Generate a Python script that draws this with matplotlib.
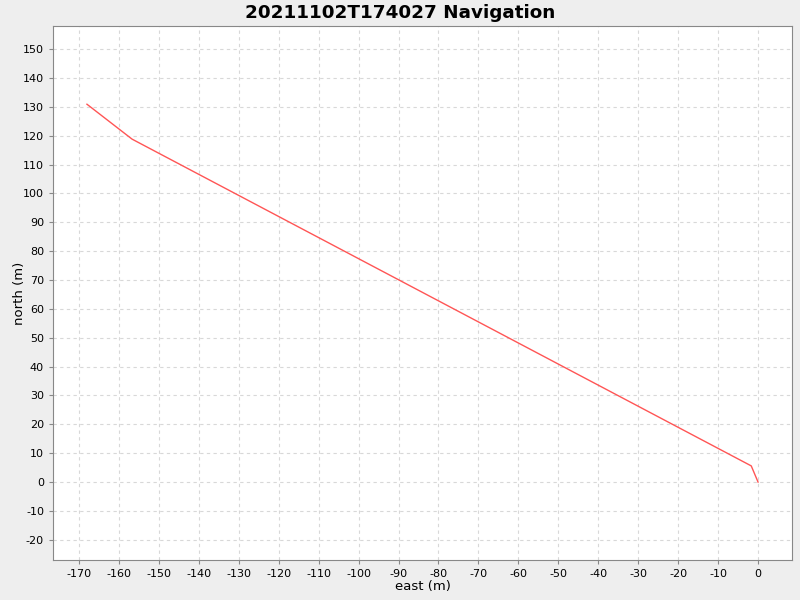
import numpy as np
from matplotlib import pyplot as plt

plt.rcParams["axes.unicode_minus"] = False

# track points (east, north) in metres
east = [-168.0, -156.7, -1.7, 0.0]
north = [130.9, 118.8, 5.6, 0.0]

xticks = np.arange(-170, 1, 10)
yticks = np.arange(-20, 151, 10)

fig = plt.figure(figsize=(8, 6), dpi=100, facecolor="#eeeeee")
ax = fig.add_axes([53/800, 1-560/600, (792-53)/800, (560-26)/600])
ax.set_facecolor("white")

ax.plot(east, north, color="#ff5555", linewidth=1)

ax.set_xlim(-176.5, 8.5)
ax.set_ylim(-27, 158)
ax.set_xticks(xticks)
ax.set_yticks(yticks)
ax.grid(True, color="#d8d8d8", linestyle=(0, (3, 3)), linewidth=0.8)
ax.set_axisbelow(True)

for s in ax.spines.values():
    s.set_color("#888888")
ax.tick_params(labelsize=8, color="#888888", length=3)

ax.set_xlabel("east (m)", fontsize=9.5, labelpad=1)
ax.set_ylabel("north (m)", fontsize=9.5)
ax.yaxis.set_label_coords(-0.037, 0.5)
fig.suptitle("20211102T174027 Navigation", fontsize=13.2, fontweight="bold", y=0.993)

fig.savefig("out.png", dpi=100, facecolor=fig.get_facecolor())
